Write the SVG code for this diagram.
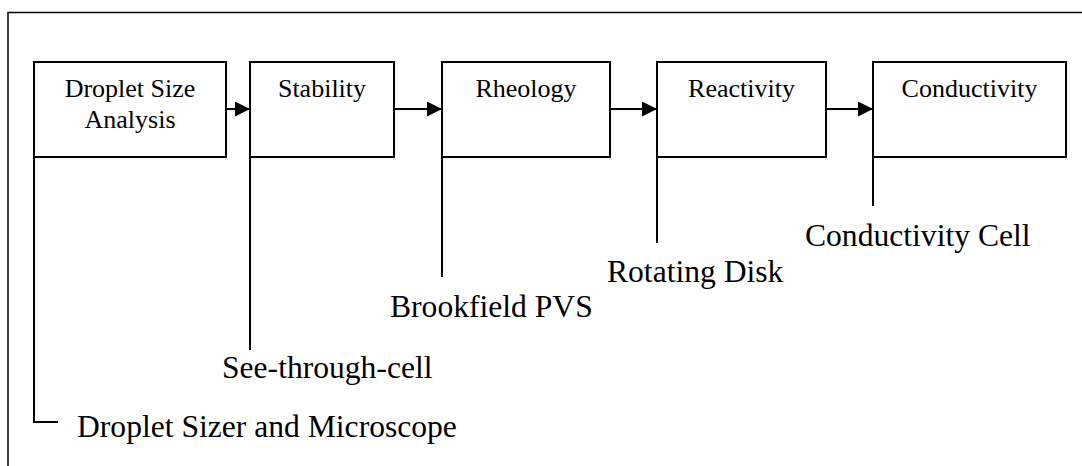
<svg xmlns="http://www.w3.org/2000/svg" width="1082" height="466" viewBox="0 0 1082 466">
<style>
.box{fill:#fff;stroke:#000;stroke-width:2}
.ln{fill:none;stroke:#000;stroke-width:2}
.bt{font-family:"Liberation Serif","Times New Roman",serif;font-size:26px;text-anchor:middle;fill:#000}
.lt{font-family:"Liberation Serif","Times New Roman",serif;font-size:31.6px;fill:#000}
</style>
<defs>
<marker id="ah" markerWidth="15" markerHeight="15" viewBox="0 0 15 15" refX="15" refY="7.5" orient="auto" markerUnits="userSpaceOnUse">
<path d="M0,0 L15,7.5 L0,15 Z" fill="#000"/>
</marker>
</defs>
<rect width="1082" height="466" fill="#fff"/>
<polyline points="8,470 8,12.5 1082,12.5" fill="none" stroke="#000" stroke-width="1.5"/>
<g id="connectors">
<line class="ln" x1="226" y1="109" x2="250" y2="109" marker-end="url(#ah)"/>
<line class="ln" x1="394" y1="109" x2="442" y2="109" marker-end="url(#ah)"/>
<line class="ln" x1="610" y1="109" x2="657" y2="109" marker-end="url(#ah)"/>
<line class="ln" x1="826" y1="109" x2="873" y2="109" marker-end="url(#ah)"/>
<polyline class="ln" points="34,157 34,422 58,422"/>
<line class="ln" x1="250" y1="157" x2="250" y2="350"/>
<line class="ln" x1="442" y1="157" x2="442" y2="277"/>
<line class="ln" x1="657" y1="157" x2="657" y2="243"/>
<line class="ln" x1="873" y1="143" x2="873" y2="206"/>
</g>
<g id="n1"><rect class="box" x="34" y="62" width="192" height="95"/><text class="bt" x="130" y="97">Droplet Size</text><text class="bt" x="130" y="128">Analysis</text></g>
<g id="n2"><rect class="box" x="250" y="62" width="144" height="95"/><text class="bt" x="322" y="97">Stability</text></g>
<g id="n3"><rect class="box" x="442" y="62" width="168" height="95"/><text class="bt" x="526" y="97">Rheology</text></g>
<g id="n4"><rect class="box" x="657" y="62" width="169" height="95"/><text class="bt" x="741.5" y="97">Reactivity</text></g>
<g id="n5"><rect class="box" x="873" y="62" width="193" height="95"/><text class="bt" x="969.5" y="97">Conductivity</text></g>
<line class="ln" x1="873" y1="143" x2="873" y2="157"/>
<g id="labels">
<text class="lt" x="77" y="437">Droplet Sizer and Microscope</text>
<text class="lt" x="222" y="378">See-through-cell</text>
<text class="lt" x="390" y="317">Brookfield PVS</text>
<text class="lt" x="607" y="282">Rotating Disk</text>
<text class="lt" x="805" y="246">Conductivity Cell</text>
</g>
</svg>
